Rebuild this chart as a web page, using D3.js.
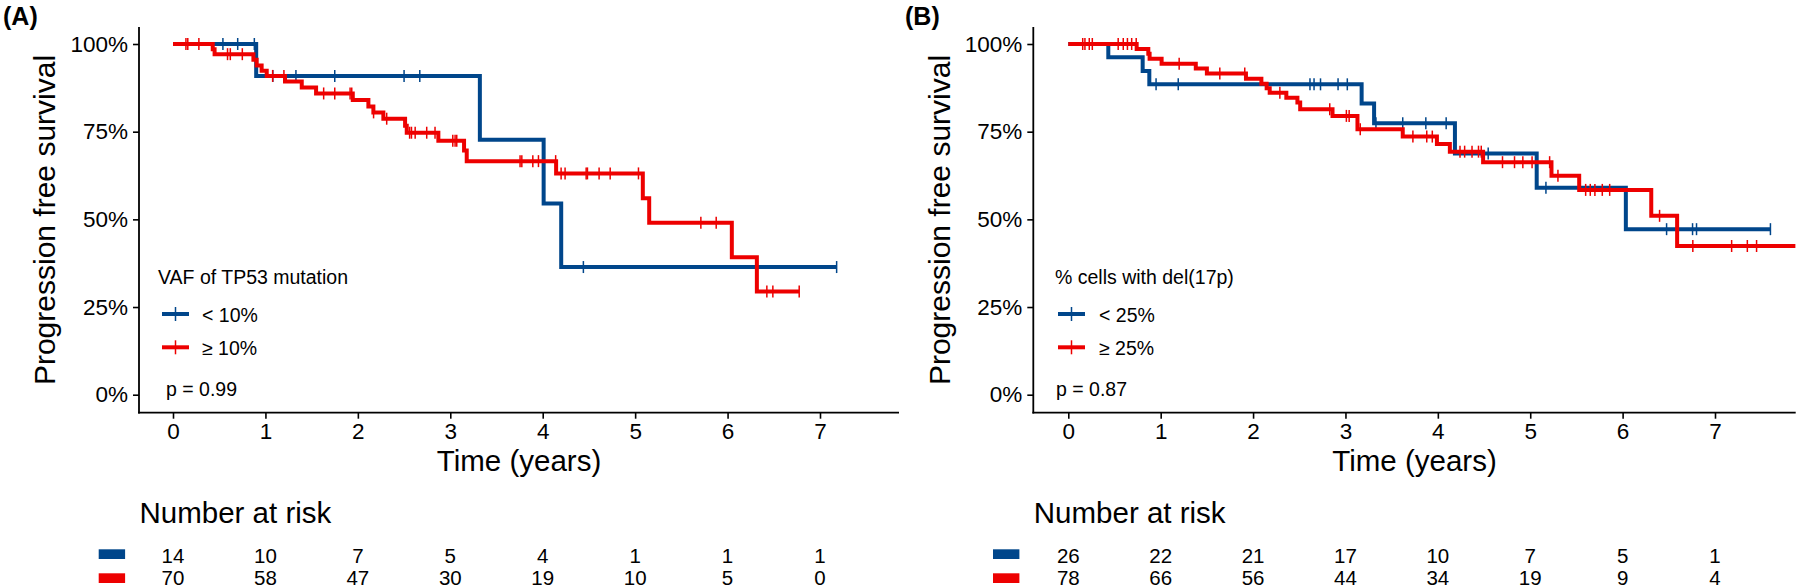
<!DOCTYPE html>
<html><head><meta charset="utf-8">
<script src="https://cdn.jsdelivr.net/npm/d3@7"></script>
<style>
body{margin:0;background:#fff}
text{font-family:"Liberation Sans",Arial,Helvetica,sans-serif;fill:#000}
</style>
</head><body><svg id="chart" width="1800" height="588"></svg>
<script>
// ---------- shared ----------
const timeTicks = [0,1,2,3,4,5,6,7];
const survTicks = [0,0.25,0.5,0.75,1];
const survTickLabels = ["0%","25%","50%","75%","100%"];
const groupColors = ["#00468B","#ED0000"];
const xTitle = "Time (years)";
const yTitle = "Progression free survival";
const riskTitle = "Number at risk";

// ---------- panel A ----------
const aLabel = "(A)";
const aLegendTitle = "VAF of TP53 mutation";
const aGroups = ["< 10%","≥ 10%"];
const aPValue = "p = 0.99";
const aLowTimes = [0,0.90,3.32,4.01,4.20];
const aLowSurv  = [1,0.909,0.727,0.545,0.364];
const aLowEnd = 7.18;
const aLowCensor = [0.54,0.70,0.88,1.08,1.33,1.75,2.50,2.67,4.44,7.18];
const aHighTimes = [0,0.43,0.45,0.87,0.905,0.959,1.014,1.212,1.393,1.548,1.945,2.114,2.168,2.276,2.511,2.529,2.871,3.149,3.178,4.145,5.083,5.152,6.046,6.317];
const aHighSurv  = [1,0.985,0.971,0.955,0.939,0.924,0.909,0.893,0.876,0.859,0.840,0.822,0.805,0.787,0.767,0.747,0.724,0.696,0.666,0.631,0.560,0.490,0.392,0.294];
const aHighEnd = 6.775;
const aHighCensor = [0.14,0.16,0.28,0.59,0.62,0.75,1.078,1.20,1.63,1.75,1.916,1.934,2.17,2.312,2.56,2.58,2.62,2.745,2.835,3.027,3.052,3.070,3.755,3.774,3.893,3.954,4.14,4.199,4.242,4.47,4.484,4.61,4.73,5.036,5.711,5.877,6.425,6.49,6.775];
const aRiskLow  = [14,10,7,5,4,1,1,1];
const aRiskHigh = [70,58,47,30,19,10,5,0];

// ---------- panel B ----------
const bLabel = "(B)";
const bLegendTitle = "% cells with del(17p)";
const bGroups = ["< 25%","≥ 25%"];
const bPValue = "p = 0.87";
const bLowTimes = [0,0.433,0.805,0.877,3.175,3.31,4.185,5.07,6.035];
const bLowSurv  = [1,0.962,0.923,0.885,0.830,0.774,0.688,0.590,0.472];
const bLowEnd = 7.60;
const bLowCensor = [0.95,1.19,2.616,2.66,2.73,2.92,3.02,3.33,3.62,3.87,4.09,4.545,5.17,6.476,6.757,6.80,7.60];
const bHighTimes = [0,0.74,0.866,0.88,1.01,1.38,1.50,1.923,2.09,2.147,2.18,2.36,2.48,2.51,2.86,3.13,3.62,3.99,4.13,4.49,5.23,5.53,6.31,6.59];
const bHighSurv  = [1,0.986,0.972,0.958,0.944,0.930,0.916,0.901,0.887,0.874,0.861,0.847,0.833,0.814,0.795,0.757,0.736,0.715,0.693,0.663,0.624,0.584,0.510,0.424];
const bHighEnd = 7.87;
const bHighCensor = [0.156,0.18,0.227,0.26,0.54,0.595,0.64,0.686,0.735,1.20,1.64,1.91,2.29,2.83,3.01,3.04,3.16,3.73,3.88,3.94,4.24,4.29,4.37,4.44,4.47,4.70,4.83,4.92,5.02,5.21,5.30,5.60,5.65,5.70,5.78,5.86,6.40,6.76,7.18,7.35,7.45];
const bRiskLow  = [26,22,21,17,10,7,5,1];
const bRiskHigh = [78,66,56,44,34,19,9,4];

const svg = d3.select("#chart");
svg.append("rect").attr("width",1800).attr("height",588).attr("fill","#fff");

function drawPanel(p){
  const g = svg.append("g");
  const x = d3.scaleLinear().domain([0,7]).range([p.x0, p.x7]);
  const y = d3.scaleLinear().domain([0,1]).range([394.7, 44]);
  const axisBottomY = 412.7, axisTopY = 27;

  // panel label
  g.append("text").attr("x",p.labelX).attr("y",25).attr("font-size",25).attr("font-weight","bold").text(p.label);

  // y axis
  const ya = g.append("g").attr("transform",`translate(${p.axisLeft},0)`)
    .call(d3.axisLeft(y).tickValues(survTicks).tickFormat((d,i)=>survTickLabels[i]).tickSize(6).tickPadding(5));
  ya.select(".domain").remove();
  g.append("line").attr("x1",p.axisLeft).attr("x2",p.axisLeft).attr("y1",axisTopY).attr("y2",axisBottomY+0.9)
    .attr("stroke","#000").attr("stroke-width",1.8);
  ya.selectAll(".tick line").attr("stroke","#000").attr("stroke-width",1.6);
  ya.selectAll(".tick text").attr("font-size",22.5).attr("fill","#000").attr("font-family",null);

  // x axis
  const xa = g.append("g").attr("transform",`translate(0,${axisBottomY})`)
    .call(d3.axisBottom(x).tickValues(timeTicks).tickFormat(d3.format("d")).tickSize(6).tickPadding(4));
  xa.select(".domain").remove();
  g.append("line").attr("x1",p.axisLeft-0.9).attr("x2",p.axisRight).attr("y1",axisBottomY).attr("y2",axisBottomY)
    .attr("stroke","#000").attr("stroke-width",1.8);
  xa.selectAll(".tick line").attr("stroke","#000").attr("stroke-width",1.6);
  xa.selectAll(".tick text").attr("font-size",22.5).attr("fill","#000").attr("font-family",null);

  // titles
  g.append("text").attr("x",(p.axisLeft+p.axisRight)/2).attr("y",471).attr("text-anchor","middle")
    .attr("font-size",29.5).text(xTitle);
  g.append("text").attr("transform",`translate(${p.yTitleX},220) rotate(-90)`).attr("text-anchor","middle")
    .attr("font-size",30).text(yTitle);

  // curves
  const line = d3.line().x(d=>x(d[0])).y(d=>y(d[1])).curve(d3.curveStepAfter);
  p.series.forEach((s,i)=>{
    const pts = s.times.map((t,j)=>[t,s.surv[j]]);
    pts.push([s.end, s.surv[s.surv.length-1]]);
    g.append("path").attr("d",line(pts)).attr("fill","none").attr("stroke",groupColors[i])
      .attr("stroke-width",4).attr("stroke-linejoin","miter");
    const survAt = t => s.surv[d3.bisectRight(s.times,t)-1];
    g.selectAll(null).data(s.censor).enter().append("line")
      .attr("x1",d=>x(d)).attr("x2",d=>x(d))
      .attr("y1",d=>y(survAt(d))-6).attr("y2",d=>y(survAt(d))+6)
      .attr("stroke",groupColors[i]).attr("stroke-width",1.5);
  });

  // legend
  g.append("text").attr("x",p.legendX).attr("y",284).attr("font-size",19.5).text(p.legendTitle);
  const keyY = [314,347.3];
  p.groups.forEach((lab,i)=>{
    g.append("line").attr("x1",p.keyX).attr("x2",p.keyX+27).attr("y1",keyY[i]).attr("y2",keyY[i])
      .attr("stroke",groupColors[i]).attr("stroke-width",4);
    g.append("line").attr("x1",p.keyX+13.5).attr("x2",p.keyX+13.5).attr("y1",keyY[i]-7).attr("y2",keyY[i]+7)
      .attr("stroke",groupColors[i]).attr("stroke-width",1.5);
    g.append("text").attr("x",p.keyTextX).attr("y",keyY[i]+7.5).attr("font-size",19.5).text(lab);
  });
  g.append("text").attr("x",p.pX).attr("y",395.5).attr("font-size",19.5).text(p.pValue);

  // risk table (columns share the time scale of the plot)
  g.append("text").attr("x",p.riskTitleX).attr("y",523).attr("font-size",29.5).text(riskTitle);
  const rowBase = [563,585];
  const rectTop = [549.3,573.3];
  p.risk.forEach((row,i)=>{
    g.append("rect").attr("x",p.riskRectX).attr("y",rectTop[i]).attr("width",26.4).attr("height",9.7).attr("fill",groupColors[i]);
    g.selectAll(null).data(row).enter().append("text")
      .attr("x",(d,j)=>x(timeTicks[j])).attr("y",rowBase[i])
      .attr("text-anchor","middle").attr("font-size",20.5).text(d=>d);
  });
}

drawPanel({
  label:aLabel, labelX:3, legendTitle:aLegendTitle, groups:aGroups, pValue:aPValue,
  axisLeft:139, axisRight:899, x0:173, x7:820, yTitleX:55,
  legendX:158, keyX:162, keyTextX:202, pX:166,
  riskTitleX:139.5, riskRectX:98.7,
  series:[
    {times:aLowTimes, surv:aLowSurv, end:aLowEnd, censor:aLowCensor},
    {times:aHighTimes, surv:aHighSurv, end:aHighEnd, censor:aHighCensor}
  ],
  risk:[aRiskLow, aRiskHigh]
});
drawPanel({
  label:bLabel, labelX:905, legendTitle:bLegendTitle, groups:bGroups, pValue:bPValue,
  axisLeft:1033.3, axisRight:1795.7, x0:1068.3, x7:1715, yTitleX:950,
  legendX:1055, keyX:1058, keyTextX:1099, pX:1056,
  riskTitleX:1033.8, riskRectX:993,
  series:[
    {times:bLowTimes, surv:bLowSurv, end:bLowEnd, censor:bLowCensor},
    {times:bHighTimes, surv:bHighSurv, end:bHighEnd, censor:bHighCensor}
  ],
  risk:[bRiskLow, bRiskHigh]
});
</script>
</body></html>
